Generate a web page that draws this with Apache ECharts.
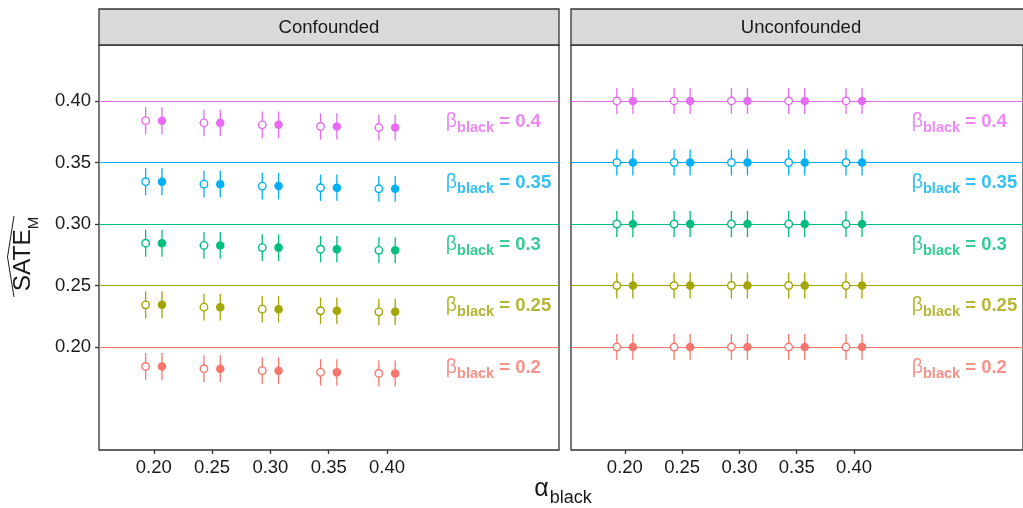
<!DOCTYPE html>
<html><head><meta charset="utf-8">
<script src="https://cdn.jsdelivr.net/npm/echarts@6/dist/echarts.min.js"></script>
<style>html,body{margin:0;padding:0;background:#fff}#c{width:1023px;height:508px}</style>
</head><body><div id="c"></div>
<script>
// ---------- data ----------
const panels = ['Confounded', 'Unconfounded'];
const alphaTicks = [0.20, 0.25, 0.30, 0.35, 0.40];
const yTicks = [0.20, 0.25, 0.30, 0.35, 0.40];
const betas = [0.2, 0.25, 0.3, 0.35, 0.4];
const betaLabels = ['0.2', '0.25', '0.3', '0.35', '0.4'];
const labelY = [0.1835, 0.2335, 0.2835, 0.3335, 0.3835];
const labelX = 0.45;

// Confounded estimates (one value per alpha)
const conf_b020 = [0.1842, 0.1824, 0.1808, 0.1794, 0.1785];
const conf_b025 = [0.2343, 0.2324, 0.2308, 0.2295, 0.2286];
const conf_b030 = [0.2844, 0.2826, 0.2808, 0.2795, 0.2786];
const conf_b035 = [0.3344, 0.3324, 0.3308, 0.3295, 0.3286];
const conf_b040 = [0.3840, 0.3822, 0.3806, 0.3793, 0.3784];
// Unconfounded estimates
const unconf_b020 = [0.2000, 0.2000, 0.2000, 0.2000, 0.2000];
const unconf_b025 = [0.2500, 0.2500, 0.2500, 0.2500, 0.2500];
const unconf_b030 = [0.3000, 0.3000, 0.3000, 0.3000, 0.3000];
const unconf_b035 = [0.3500, 0.3500, 0.3500, 0.3500, 0.3500];
const unconf_b040 = [0.4000, 0.4000, 0.4000, 0.4000, 0.4000];
// interval half-widths per alpha
const confHalf = [0.0110, 0.0109, 0.0108, 0.0107, 0.0106];
const unconfHalf = [0.0106, 0.0106, 0.0106, 0.0106, 0.0106];

// ---------- style ----------
const colors = ['#F8766D', '#A3A500', '#00BF7D', '#00B0F6', '#E76BF3'];
const FONT = "'Liberation Sans', Arial, Helvetica, sans-serif";
const DODGE = 0.007;
const TXT = '#1a1a1a';
const est = [[conf_b020, conf_b025, conf_b030, conf_b035, conf_b040],
             [unconf_b020, unconf_b025, unconf_b030, unconf_b035, unconf_b040]];
const half = [confHalf, unconfHalf];
const gridPos = [{left: 99, top: 45, width: 460, height: 405}, {left: 571, top: 45, width: 460, height: 405}];

const grids = gridPos.map(p => Object.assign({show: true, borderColor: '#333', borderWidth: 1.3, backgroundColor: 'transparent'}, p));
const xAxes = gridPos.map((p, g) => ({
  gridIndex: g, type: 'value', min: 0.153, max: 0.5475,
  axisLine: {show: false}, splitLine: {show: false},
  axisTick: {show: true, customValues: alphaTicks, length: 4, lineStyle: {color: '#333', width: 1.3}},
  axisLabel: {show: true, customValues: alphaTicks, formatter: v => v.toFixed(2), color: TXT, fontSize: 18.5, fontFamily: FONT, margin: 8}
}));
const yAxes = gridPos.map((p, g) => ({
  gridIndex: g, type: 'value', min: 0.1163, max: 0.4455,
  axisLine: {show: false}, splitLine: {show: false},
  axisTick: {show: g === 0, customValues: yTicks, length: 4, lineStyle: {color: '#333', width: 1.3}},
  axisLabel: {show: g === 0, customValues: yTicks, formatter: v => v.toFixed(2), color: TXT, fontSize: 18.5, fontFamily: FONT, margin: 8}
}));

const rich = {};
colors.forEach((c, i) => {
  rich['b' + i] = {color: c, fontSize: 19.5, verticalAlign: 'bottom', fontFamily: FONT, padding: [0, 0, 4, 0]};
  rich['s' + i] = {color: c, fontSize: 14.5, verticalAlign: 'bottom', fontFamily: FONT, fontWeight: 'bold'};
  rich['e' + i] = {color: c, fontSize: 18.5, verticalAlign: 'bottom', fontFamily: FONT, fontWeight: 'bold', padding: [0, 0, 4, 0]};
});

const series = [];
for (let g = 0; g < 2; g++) {
  for (let i = 0; i < betas.length; i++) {
    const col = colors[i];
    const vals = est[g][i];
    const bars = [];
    alphaTicks.forEach((a, j) => {
      bars.push([a - DODGE, vals[j] - half[g][j], vals[j] + half[g][j]]);
      bars.push([a + DODGE, vals[j] - half[g][j], vals[j] + half[g][j]]);
    });
    series.push({
      type: 'custom', xAxisIndex: g, yAxisIndex: g, z: 2, silent: true,
      encode: {x: 0, y: [1, 2]},
      data: bars,
      renderItem: (params, api) => {
        const p1 = api.coord([api.value(0), api.value(1)]);
        const p2 = api.coord([api.value(0), api.value(2)]);
        return {type: 'line', shape: {x1: p1[0], y1: p1[1], x2: p2[0], y2: p2[1]}, style: {stroke: col, lineWidth: 1.3}};
      },
      markLine: {silent: true, symbol: 'none', animation: false, data: [{yAxis: betas[i]}],
        lineStyle: {color: col, width: 1.1, type: 'solid'}, label: {show: false}}
    });
    series.push({
      type: 'scatter', xAxisIndex: g, yAxisIndex: g, z: 5, silent: true,
      symbol: 'circle', symbolSize: 7.5,
      itemStyle: {color: '#fff', borderColor: col, borderWidth: 1.4, opacity: 1},
      data: alphaTicks.map((a, j) => [a - DODGE, vals[j]])
    });
    series.push({
      type: 'scatter', xAxisIndex: g, yAxisIndex: g, z: 5, silent: true,
      symbol: 'circle', symbolSize: 8.5,
      itemStyle: {color: col, opacity: 1},
      data: alphaTicks.map((a, j) => [a + DODGE, vals[j]])
    });
  }
  series.push({
    type: 'scatter', xAxisIndex: g, yAxisIndex: g, z: 6, silent: true,
    symbolSize: 1, itemStyle: {color: 'transparent'},
    label: {show: true, position: 'right', distance: 0, offset: [0, 2],
      formatter: p => `{b${p.dataIndex}|β}{s${p.dataIndex}|black}{e${p.dataIndex}| = ${betaLabels[p.dataIndex]}}`,
      rich: rich},
    data: labelY.map(y => [labelX, y])
  });
}

const graphics = [];
gridPos.forEach((p, g) => {
  graphics.push({type: 'rect', silent: true, shape: {x: p.left, y: 9, width: p.width, height: 36},
    style: {fill: '#D9D9D9', stroke: '#333', lineWidth: 1.3}, z: 10});
  graphics.push({type: 'text', silent: true, x: p.left + p.width / 2, y: 28, z: 11,
    style: {text: panels[g], fill: TXT, font: '18.5px ' + FONT, align: 'center', verticalAlign: 'middle'}});
});
// axis titles
graphics.push({type: 'text', silent: true, x: 563, y: 492, z: 11,
  style: {text: '{a|α}{s|black}', align: 'center', verticalAlign: 'middle',
    rich: {a: {fontSize: 25, verticalAlign: 'bottom', fill: TXT, fontFamily: FONT, padding: [0, 1, 5, 0]},
           s: {fontSize: 18, verticalAlign: 'bottom', fill: TXT, fontFamily: FONT}}}});
graphics.push({type: 'text', silent: true, x: 26, y: 254, rotation: Math.PI / 2, z: 11,
  style: {text: '{a|SATE}{s|M}', align: 'center', verticalAlign: 'middle',
    rich: {a: {fontSize: 24.5, verticalAlign: 'bottom', fill: TXT, fontFamily: FONT, padding: [0, 0, 5, 0]},
           s: {fontSize: 15, verticalAlign: 'bottom', fill: TXT, fontFamily: FONT}}}});
graphics.push({type: 'polyline', silent: true, z: 11,
  shape: {points: [[14, 297], [7.5, 257], [14, 216]]}, style: {stroke: TXT, lineWidth: 1, fill: null}});

const chart = echarts.init(document.getElementById('c'), null, {renderer: 'canvas'});
chart.setOption({
  animation: false,
  backgroundColor: '#fff',
  grid: grids, xAxis: xAxes, yAxis: yAxes,
  series: series,
  graphic: graphics
});
</script></body></html>
